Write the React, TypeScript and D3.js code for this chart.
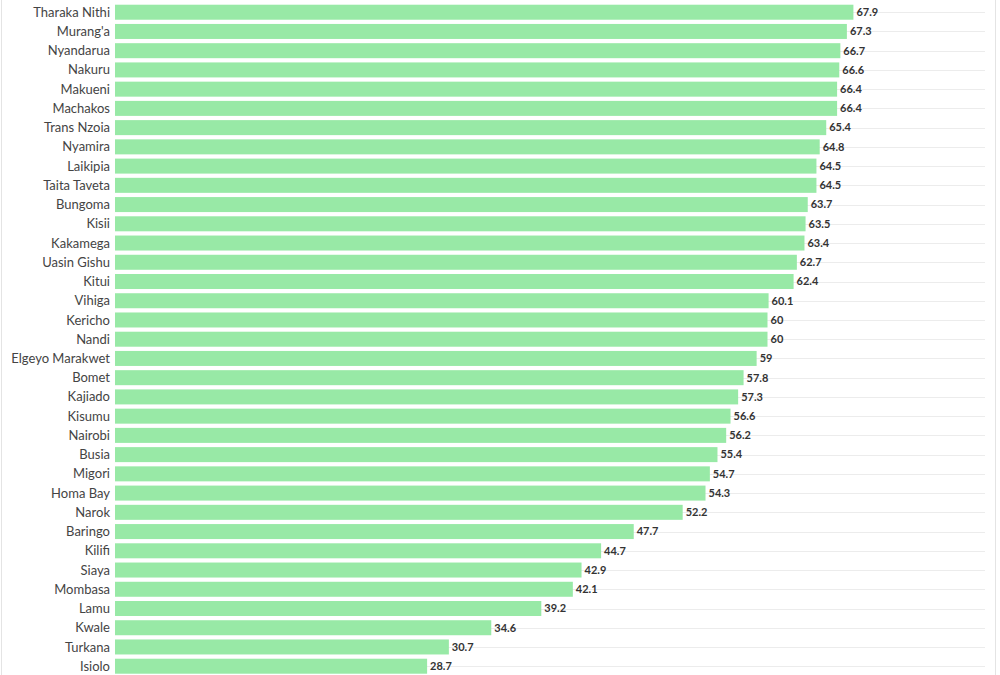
import { useEffect, useRef } from 'react';
import * as d3 from 'd3';

const counties = [
  'Tharaka Nithi', "Murang'a", 'Nyandarua', 'Nakuru', 'Makueni', 'Machakos',
  'Trans Nzoia', 'Nyamira', 'Laikipia', 'Taita Taveta', 'Bungoma', 'Kisii',
  'Kakamega', 'Uasin Gishu', 'Kitui', 'Vihiga', 'Kericho', 'Nandi',
  'Elgeyo Marakwet', 'Bomet', 'Kajiado', 'Kisumu', 'Nairobi', 'Busia',
  'Migori', 'Homa Bay', 'Narok', 'Baringo', 'Kilifi', 'Siaya', 'Mombasa',
  'Lamu', 'Kwale', 'Turkana', 'Isiolo',
];

const values = [
  67.9, 67.3, 66.7, 66.6, 66.4, 66.4, 65.4, 64.8, 64.5, 64.5, 63.7, 63.5,
  63.4, 62.7, 62.4, 60.1, 60, 60, 59, 57.8, 57.3, 56.6, 56.2, 55.4, 54.7,
  54.3, 52.2, 47.7, 44.7, 42.9, 42.1, 39.2, 34.6, 30.7, 28.7,
];

const xDomain = [0, 80];

const width = 1000;
const height = 675;

export default function App() {
  const svgRef = useRef<SVGSVGElement>(null);

  useEffect(() => {
    if (!svgRef.current) return;
    const svg = d3.select(svgRef.current);
    svg.selectAll('*').remove();

    const rows = counties.map((c, i) => ({ county: c, value: values[i] }));

    const x = d3.scaleLinear().domain(xDomain).range([115, 985]);
    const y = d3.scaleBand<string>()
      .domain(counties)
      .range([2.6, 2.6 + 19.235 * counties.length])
      .paddingInner(0.22)
      .paddingOuter(0.11);

    // frame edges
    svg.append('line')
      .attr('x1', 1.5).attr('x2', 1.5).attr('y1', 0).attr('y2', height)
      .attr('stroke', '#e4e4e4');
    svg.append('line')
      .attr('x1', 995.5).attr('x2', 995.5).attr('y1', 0).attr('y2', height)
      .attr('stroke', '#e4e4e4');

    // gridlines through row centres
    svg.append('g')
      .selectAll('line')
      .data(rows)
      .enter()
      .append('line')
      .attr('x1', x(0))
      .attr('x2', x(xDomain[1]))
      .attr('y1', d => Math.round(y(d.county)! + y.bandwidth() / 2) + 0.5)
      .attr('y2', d => Math.round(y(d.county)! + y.bandwidth() / 2) + 0.5)
      .attr('stroke', '#ececec')
      .attr('stroke-width', 1);

    svg.append('g')
      .selectAll('rect')
      .data(rows)
      .enter()
      .append('rect')
      .attr('x', x(0))
      .attr('y', d => y(d.county)!)
      .attr('width', d => x(d.value) - x(0))
      .attr('height', y.bandwidth())
      .attr('fill', '#98e9a6');

    svg.append('g')
      .selectAll('text')
      .data(rows)
      .enter()
      .append('text')
      .attr('x', 110)
      .attr('y', d => y(d.county)! + y.bandwidth() / 2)
      .attr('dy', '0.35em')
      .attr('text-anchor', 'end')
      .style('font-family', 'Lato, "Open Sans", sans-serif')
      .style('font-size', '13px')
      .attr('fill', '#444')
      .text(d => d.county);

    svg.append('g')
      .selectAll('text')
      .data(rows)
      .enter()
      .append('text')
      .attr('x', d => x(d.value) + 3)
      .attr('y', d => y(d.county)! + y.bandwidth() / 2)
      .attr('dy', '0.35em')
      .style('font-family', 'Lato, "Open Sans", sans-serif')
      .style('font-size', '11px')
      .style('font-weight', 'bold')
      .attr('fill', '#333')
      .text(d => String(d.value));
  }, []);

  return (
    <svg
      ref={svgRef}
      width={width}
      height={height}
      style={{ position: 'absolute', left: 0, top: 0, background: '#fff' }}
    />
  );
}
